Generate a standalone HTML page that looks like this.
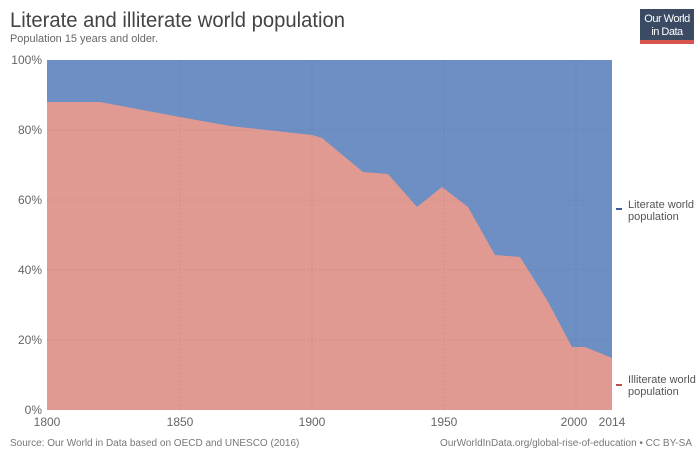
<!DOCTYPE html>
<html><head><meta charset="utf-8"><style>
body{margin:0;background:#fff;font-family:"Liberation Sans",sans-serif;}
</style></head><body>
<svg width="700" height="453" xmlns="http://www.w3.org/2000/svg" font-family="Liberation Sans, sans-serif">
<rect width="700" height="453" fill="#fff"/>
<text x="10" y="27" font-size="21" fill="#444" textLength="335" lengthAdjust="spacingAndGlyphs">Literate and illiterate world population</text>
<text x="10" y="42" font-size="11" fill="#666" textLength="148" lengthAdjust="spacingAndGlyphs">Population 15 years and older.</text>
<rect x="640" y="9" width="54" height="34" fill="#3b4b63"/>
<rect x="640" y="40" width="54" height="4" fill="#d9534f"/>
<text x="667" y="22" font-size="11" fill="#fff" text-anchor="middle" letter-spacing="-0.5">Our World</text>
<text x="667" y="35" font-size="11" fill="#fff" text-anchor="middle" letter-spacing="-0.5">in Data</text>
<rect x="47" y="60" width="565" height="350" fill="#6e8fc3"/>
<polygon fill="#e09a91" points="47,102 100,102 180,117 230,126 312,135 322,138 363,172 388,174 417,207 442,187 468,207 495,255 520,257 547,300 572,347 585,347 612,358 612,410 47,410"/>
<g stroke="#000" stroke-opacity="0.06" stroke-dasharray="2,2">
<line x1="47" y1="130" x2="612" y2="130"/><line x1="47" y1="200" x2="612" y2="200"/>
<line x1="47" y1="270" x2="612" y2="270"/><line x1="47" y1="340" x2="612" y2="340"/>
<line x1="180" y1="60" x2="180" y2="410"/><line x1="312" y1="60" x2="312" y2="410"/>
<line x1="444" y1="60" x2="444" y2="410"/><line x1="576" y1="60" x2="576" y2="410"/>
</g>
<g font-size="12" fill="#666" text-anchor="end">
<text x="42" y="64">100%</text><text x="42" y="134">80%</text><text x="42" y="204">60%</text>
<text x="42" y="274">40%</text><text x="42" y="344">20%</text><text x="42" y="414">0%</text>
</g>
<g font-size="12" fill="#666" text-anchor="middle">
<text x="47" y="426">1800</text><text x="180" y="426">1850</text><text x="312" y="426">1900</text>
<text x="444" y="426">1950</text><text x="574" y="426">2000</text><text x="612" y="426">2014</text>
</g>
<line x1="616" y1="209" x2="622" y2="209" stroke="#3b5a9a" stroke-width="2"/>
<text x="628" y="208" font-size="11" fill="#555">Literate world</text>
<text x="628" y="220" font-size="11" fill="#555">population</text>
<line x1="616" y1="385" x2="622" y2="385" stroke="#c0504d" stroke-width="2"/>
<text x="628" y="383" font-size="11" fill="#555">Illiterate world</text>
<text x="628" y="395" font-size="11" fill="#555">population</text>
<text x="10" y="446" font-size="10" fill="#777">Source: Our World in Data based on OECD and UNESCO (2016)</text>
<text x="692" y="446" font-size="10" fill="#777" text-anchor="end">OurWorldInData.org/global-rise-of-education • CC BY-SA</text>
</svg>
</body></html>
